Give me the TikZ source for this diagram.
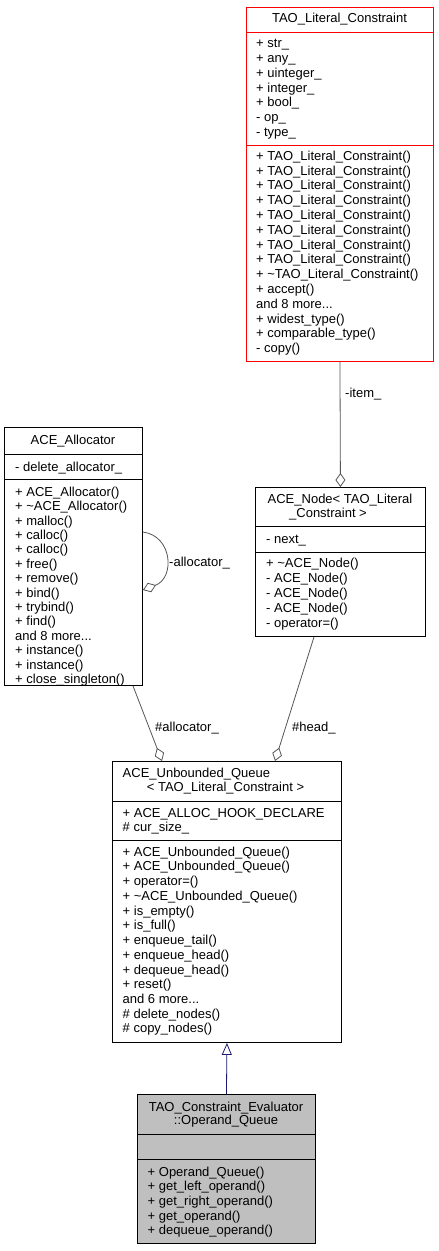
\documentclass[tikz,border=0pt]{standalone}
\usepackage{fontspec}
\setmainfont{Liberation Sans}
\usetikzlibrary{arrows.meta}
\definecolor{edgegray}{HTML}{555555}
\definecolor{inhblue}{HTML}{191970}
\definecolor{boxred}{HTML}{FF0000}
\definecolor{boxgray}{HTML}{BFBFBF}
\newcommand\moreitems[1]{and #1 more...}
\tikzset{
  umlbox/.style={draw=black, line width=0.9pt, inner sep=0pt, anchor=north west},
  sepline/.style={draw=black, line width=0.9pt},
  txt/.style={anchor=base west, inner sep=0pt, font=\fontsize{13}{15}\selectfont},
  ctxt/.style={anchor=base, inner sep=0pt, font=\fontsize{13}{15}\selectfont},
  usage/.style={draw=edgegray, line width=0.8pt, -{Diamond[open, length=14pt, width=10pt]}},
  inherit/.style={draw=inhblue, line width=0.8pt, -{Triangle[open, length=12pt, width=10pt]}},
  elabel/.style={anchor=base west, inner sep=0pt, font=\fontsize{13}{15}\selectfont},
}
\begin{document}
\begin{tikzpicture}[x=1pt, y=-1pt]
\useasboundingbox (0,0) rectangle (439,1251);
\fill[white] (0,0) rectangle (439,1251);

% ---------- TAO_Literal_Constraint ----------
\node[umlbox, draw=boxred, minimum width=187pt, minimum height=354pt] (tao) at (246,7) {};
\draw[sepline, draw=boxred] (tao.west |- 0,32) -- (tao.east |- 0,32);
\draw[sepline, draw=boxred] (tao.west |- 0,145) -- (tao.east |- 0,145);
\node[ctxt] (taoT) at (339.5,22.5) {TAO\_Literal\_Constraint};
\foreach \t [count=\i] in {+ str\_, + any\_, + uinteger\_, + integer\_, + bool\_, - op\_, - type\_}
  \node[txt] (taoA\i) at (256,{33.02+14.78*\i}) {\t};
\foreach \t [count=\i] in {+ TAO\_Literal\_Constraint(), + TAO\_Literal\_Constraint(), + TAO\_Literal\_Constraint(), + TAO\_Literal\_Constraint(), + TAO\_Literal\_Constraint(), + TAO\_Literal\_Constraint(), + TAO\_Literal\_Constraint(), + TAO\_Literal\_Constraint(), + \textasciitilde TAO\_Literal\_Constraint(), + accept(), \moreitems{8}, + widest\_type(), + comparable\_type(), - copy()}
  \node[txt] (taoM\i) at (256,{145.4+14.8*\i}) {\t};

% ---------- ACE_Allocator ----------
\node[umlbox, minimum width=138pt, minimum height=258pt] (alloc) at (4,427) {};
\draw[sepline] (alloc.west |- 0,454) -- (alloc.east |- 0,454);
\draw[sepline] (alloc.west |- 0,479) -- (alloc.east |- 0,479);
\node[ctxt] (allocT) at (73,444.5) {ACE\_Allocator};
\node[txt] (allocA1) at (15,471.5) {- delete\_allocator\_};
\foreach \t [count=\i] in {+ ACE\_Allocator(), + \textasciitilde ACE\_Allocator(), + malloc(), + calloc(), + calloc(), + free(), + remove(), + bind(), + trybind(), + find(), \moreitems{8}, + instance(), + instance(), + close\_singleton()}
  \node[txt] (allocM\i) at (15,{481.8+14.4*\i}) {\t};

% ---------- ACE_Node ----------
\node[umlbox, minimum width=170pt, minimum height=149pt] (acenode) at (255,487) {};
\draw[sepline] (acenode.west |- 0,526) -- (acenode.east |- 0,526);
\draw[sepline] (acenode.west |- 0,552) -- (acenode.east |- 0,552);
\node[ctxt] (nodeT1) at (340,503.5) {ACE\_Node< TAO\_Literal};
\node[ctxt] (nodeT2) at (328,517.5) {\_Constraint >};
\node[txt] (nodeA1) at (266,543.5) {- next\_};
\foreach \t [count=\i] in {+ \textasciitilde ACE\_Node(), - ACE\_Node(), - ACE\_Node(), - ACE\_Node(), - operator=()}
  \node[txt] (nodeM\i) at (266,{552.2+15*\i}) {\t};

% ---------- ACE_Unbounded_Queue ----------
\node[umlbox, minimum width=229pt, minimum height=281pt] (queue) at (112,761) {};
\draw[sepline] (queue.west |- 0,801) -- (queue.east |- 0,801);
\draw[sepline] (queue.west |- 0,840) -- (queue.east |- 0,840);
\node[txt] (queueT1) at (122.5,777.5) {ACE\_Unbounded\_Queue};
\node[ctxt] (queueT2) at (225.5,791.5) {< TAO\_Literal\_Constraint >};
\node[txt] (queueA1) at (122.5,817.5) {+ ACE\_ALLOC\_HOOK\_DECLARE};
\node[txt] (queueA2) at (122.5,831.5) {\# cur\_size\_};
\foreach \t [count=\i] in {+ ACE\_Unbounded\_Queue(), + ACE\_Unbounded\_Queue(), + operator=(), + \textasciitilde ACE\_Unbounded\_Queue(), + is\_empty(), + is\_full(), + enqueue\_tail(), + enqueue\_head(), + dequeue\_head(), + reset(), \moreitems{6}, \# delete\_nodes(), \# copy\_nodes()}
  \node[txt] (queueM\i) at (122.5,{841.47+14.73*\i}) {\t};

% ---------- TAO_Constraint_Evaluator::Operand_Queue ----------
\node[umlbox, fill=boxgray, minimum width=178pt, minimum height=149pt] (opq) at (137,1094) {};
\draw[sepline] (opq.west |- 0,1134) -- (opq.east |- 0,1134);
\draw[sepline] (opq.west |- 0,1159) -- (opq.east |- 0,1159);
\node[ctxt] (opqT1) at (226,1111.5) {TAO\_Constraint\_Evaluator};
\node[ctxt] (opqT2) at (226,1124.5) {::Operand\_Queue};
\foreach \t [count=\i] in {+ Operand\_Queue(), + get\_left\_operand(), + get\_right\_operand(), + get\_operand(), + dequeue\_operand()}
  \node[txt] (opqM\i) at (147.5,{1161.6+14.6*\i}) {\t};

% ---------- connectors ----------
\draw[usage] (tao.south) -- (acenode.north);
\node[elabel] (lItem) at (345,397.5) {-item\_};

\draw[usage] ([xshift=59pt]acenode.south west) -- ([xshift=163pt]queue.north west);
\node[elabel] (lHead) at (292,731.5) {\#head\_};

\draw[usage] ([xshift=129pt]alloc.south west) -- ([xshift=50pt]queue.north west);
\node[elabel] (lAlloc) at (155,731.5) {\#allocator\_};

\draw[usage] ([yshift=-105pt]alloc.north east) .. controls +(30,4) and +(32,-12) .. ([yshift=-163pt]alloc.north east);
\node[elabel] (lSelf) at (169,566.5) {-allocator\_};

\draw[inherit] (opq.north) -- (queue.south);
\end{tikzpicture}
\end{document}
